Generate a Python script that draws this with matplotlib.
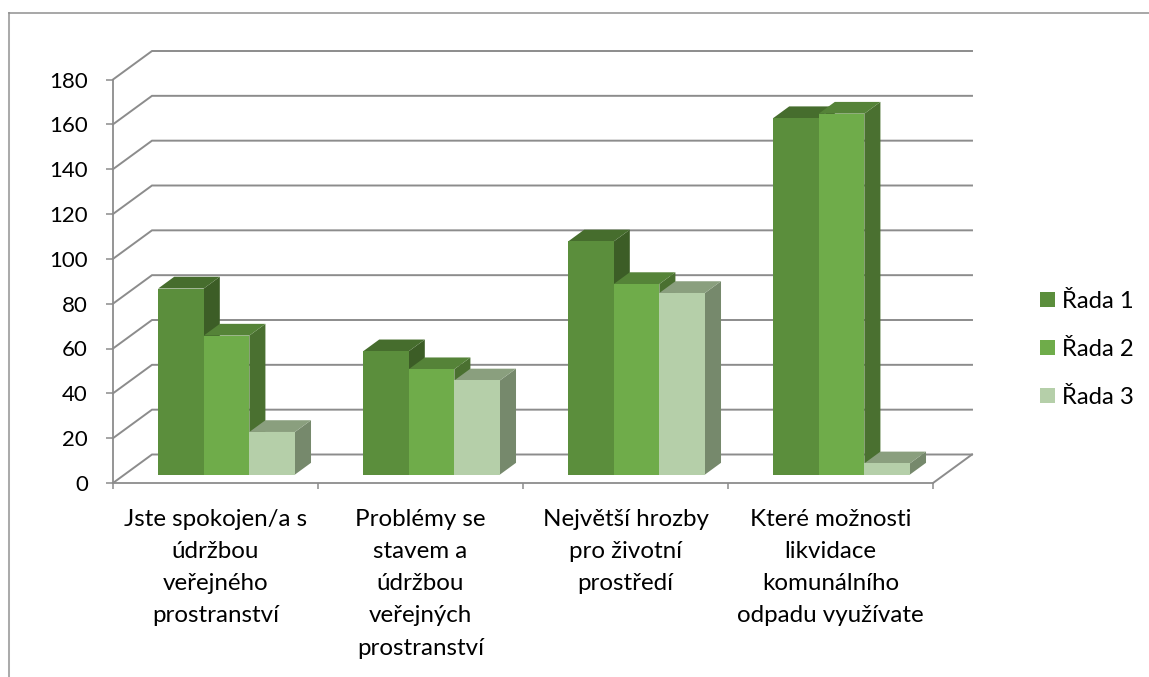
import matplotlib
matplotlib.use("Agg")
import matplotlib.pyplot as plt
from matplotlib.patches import Polygon, Patch

categories = ["Jste spokojen/a s\núdržbou\nveřejného\nprostranství",
              "Problémy se\nstavem a\núdržbou\nveřejných\nprostranství",
              "Největší hrozby\npro životní\nprostředí",
              "Které možnosti\nlikvidace\nkomunálního\nodpadu využívate"]
series_names = ["Řada 1", "Řada 2", "Řada 3"]
rada1 = [83, 55, 104, 159]
rada2 = [62, 47, 85, 161]
rada3 = [19, 42, 81, 5]
y_ticks = [0, 20, 40, 60, 80, 100, 120, 140, 160, 180]

front_cols = ["#5B8E3C", "#6FAC4A", "#B5CFA9"]
side_cols = ["#3C5D26", "#4A7030", "#76896C"]
top_cols = ["#466D2D", "#558338", "#8A9F7E"]
grid_col = "#8C8C8C"

plt.rcParams["font.family"] = ["Lato", "DejaVu Sans"]
W, H = 1149, 677
fig = plt.figure(figsize=(W / 100, H / 100), dpi=100, facecolor="white")
L, R, T, B = 113.0, 933.0, 79.5, 483.0
ax = fig.add_axes([L / W, 1 - B / H, (R - L) / W, (B - T) / H])
ax.set_xlim(0, 4)
ax.set_ylim(0, 180)
ax.patch.set_visible(False)
for s in ("top", "right"):
    ax.spines[s].set_visible(False)
for s in ("left", "bottom"):
    ax.spines[s].set_color(grid_col)
    ax.spines[s].set_linewidth(1.3)

# depth of the 3D wall, in data units
DX = 39.0 / 205.0
DY = 28.5 / ((B - T) / 180.0)

def depth(x, y, d):
    return x + d * DX, y + d * DY

for v in y_ticks:
    x0, y0 = depth(0, v, 0)
    x1, y1 = depth(0, v, 1)
    x2, y2 = depth(4, v, 1)
    ax.plot([x0, x1, x2], [y0, y1, y2], color=grid_col, lw=1.4, clip_on=False, zorder=1,
            solid_joinstyle="miter")
x0, y0 = depth(4, 0, 0)
x1, y1 = depth(4, 0, 1)
ax.plot([x0, x1], [y0, y1], color=grid_col, lw=1.4, clip_on=False, zorder=1)

ax.set_xticks([0, 1, 2, 3, 4])
ax.set_xticklabels([])
ax.set_xticks([0.5, 1.5, 2.5, 3.5], labels=categories, minor=True)
ax.tick_params(axis="x", which="major", length=4, width=1.1, color=grid_col)
ax.tick_params(axis="x", which="minor", length=0, pad=18.5, labelsize=17.4, labelcolor="black")
ax.set_yticks(y_ticks)
ax.tick_params(axis="y", length=5, width=1.1, color=grid_col, pad=13, labelsize=16, labelcolor="black")
for lab in ax.get_xticklabels(minor=True):
    lab.set_linespacing(1.66)

GAP = 33.6 / 205.0
BW = 45.6 / 205.0
D0, D1 = 0.296, 0.708
z = 3
for c in range(len(categories)):
    for i, vals in enumerate((rada1, rada2, rada3)):
        v = vals[c]
        xl = c + GAP + i * BW
        xr = xl + BW
        f = [depth(xl, 0, D0), depth(xr, 0, D0), depth(xr, v, D0), depth(xl, v, D0)]
        s = [depth(xr, 0, D0), depth(xr, 0, D1), depth(xr, v, D1), depth(xr, v, D0)]
        t = [depth(xl, v, D0), depth(xr, v, D0), depth(xr, v, D1), depth(xl, v, D1)]
        for pts, col in ((s, side_cols[i]), (t, top_cols[i]), (f, front_cols[i])):
            ax.add_patch(Polygon(pts, closed=True, facecolor=col, edgecolor="none",
                                 clip_on=False, zorder=z))
            z += 1

handles = [Patch(facecolor=col, edgecolor="none", label=n) for col, n in zip(front_cols, series_names)]
fig.legend(handles=handles, loc="center left", bbox_to_anchor=(1040 / W, 1 - 349.5 / H),
           frameon=False, fontsize=17.2, handlelength=0.63, handleheight=0.63,
           handletextpad=0.29, labelspacing=1.13, borderpad=0, borderaxespad=0)

# chart frame
fig.add_artist(plt.Line2D([9 / W, 9 / W], [0, 1 - 12.5 / H],
                          color="#ABABAB", lw=1.45, transform=fig.transFigure))
fig.add_artist(plt.Line2D([9 / W, 1], [1 - 12.5 / H, 1 - 12.5 / H],
                          color="#8F8F8F", lw=1.1, transform=fig.transFigure))

fig.savefig("out.png", dpi=100, facecolor="white")
